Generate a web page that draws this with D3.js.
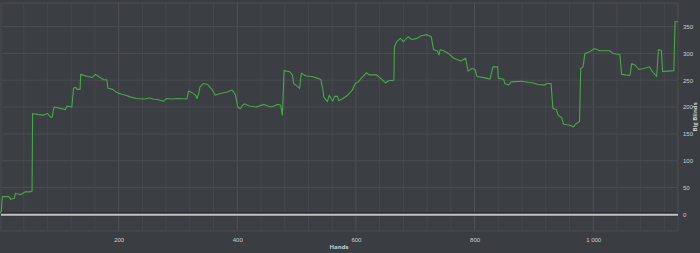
<!DOCTYPE html>
<html>
<head>
<meta charset="utf-8">
<script src="https://cdn.jsdelivr.net/npm/d3@7"></script>
<style>
  html, body { margin: 0; padding: 0; background: #3a3d42; }
  svg { display: block; font-family: "Open Sans", "DejaVu Sans", sans-serif; }
</style>
</head>
<body>
<div id="chart"></div>
<script>
// Hands played (x) and running result in big blinds (y)
const hands = [0, 2, 4, 15, 18, 24, 26, 35, 43, 51, 54, 55, 65, 74, 80, 86, 88, 91, 100, 108,
  110, 113, 121, 124, 127, 130, 135, 136, 145, 155, 158, 161, 165, 170, 175, 180, 182, 190, 197, 205,
  212, 219, 230, 243, 253, 258, 265, 276, 280, 290, 300, 315, 318, 325, 330, 332, 335, 337, 343, 350,
  358, 363, 370, 383, 391, 394, 397, 401, 405, 408, 412, 420, 432, 445, 456, 462, 467, 473, 476, 479,
  488, 493, 495, 500, 505, 508, 516, 526, 535, 541, 544, 546, 552, 555, 561, 564, 569, 571, 578, 586,
  594, 599, 604, 610, 618, 622, 635, 640, 644, 650, 655, 664, 665, 669, 675, 680, 688, 694, 703, 710,
  720, 727, 731, 737, 740, 742, 748, 756, 765, 777, 785, 789, 796, 801, 804, 820, 826, 831, 839, 840,
  849, 851, 857, 862, 879, 899, 907, 918, 922, 929, 932, 938, 941, 947, 950, 961, 967, 970, 977, 979,
  983, 986, 994, 1002, 1011, 1028, 1033, 1045, 1048, 1062, 1065, 1071, 1077, 1086, 1095, 1098, 1107, 1110, 1115, 1117,
  1136, 1138, 1143];
const bigBlinds = [2, 5, 33, 33, 28, 30, 39, 37, 42, 42, 43, 188, 186, 185, 188, 181, 181, 200, 198, 196,
  195, 202, 200, 235, 237, 233, 233, 261, 258, 255, 258, 261, 258, 254, 251, 251, 235, 233, 227, 224,
  222, 219, 216, 215, 217, 215, 214, 211, 216, 215, 216, 215, 230, 226, 222, 216, 225, 237, 244, 242,
  232, 222, 225, 228, 232, 228, 222, 200, 197, 202, 206, 202, 200, 205, 200, 202, 205, 204, 185, 268,
  266, 260, 244, 240, 235, 263, 258, 257, 254, 251, 235, 218, 210, 222, 211, 220, 220, 212, 216, 222,
  232, 244, 247, 255, 264, 260, 260, 255, 251, 245, 249, 250, 312, 322, 328, 322, 331, 326, 328, 333,
  335, 331, 307, 305, 297, 307, 305, 300, 291, 286, 291, 267, 272, 270, 257, 254, 252, 275, 275, 254,
  252, 244, 241, 247, 248, 245, 242, 241, 244, 244, 198, 195, 185, 180, 168, 166, 163, 168, 173, 272,
  275, 300, 303, 309, 305, 305, 300, 298, 261, 259, 281, 278, 270, 272, 275, 269, 257, 307, 306, 266,
  268, 359, 359];

const xTicks = [200, 400, 600, 800, 1000];
const yTicks = [0, 50, 100, 150, 200, 250, 300, 350];

const W = 700, H = 253;
const plot = {left: 0, right: 678, top: 3, bottom: 231};

const points = hands.map((h, i) => ({hand: h, bb: bigBlinds[i]}));

const x = d3.scaleLinear().domain([0, 1143]).range([plot.left, plot.right]);
const y = d3.scaleLinear().domain([-31, 394]).range([plot.bottom, plot.top]);

const svg = d3.select("#chart").append("svg")
  .attr("width", W)
  .attr("height", H);

// plot panel
svg.append("rect")
  .attr("x", plot.left + 1).attr("y", plot.top)
  .attr("width", plot.right - plot.left - 1).attr("height", plot.bottom - plot.top)
  .attr("fill", "#3b3e43")
  .attr("stroke", "#4a4d52")
  .attr("stroke-width", 1);

// vertical grid, minor every 40 hands, major every 200
const grid = svg.append("g");
grid.selectAll("line.vx")
  .data(d3.range(40, 1143, 40))
  .join("line")
  .attr("x1", d => x(d)).attr("x2", d => x(d))
  .attr("y1", plot.top).attr("y2", plot.bottom)
  .attr("stroke", d => d % 200 === 0 ? "#4f5257" : "#45484d")
  .attr("stroke-width", 1);

// horizontal grid
grid.selectAll("line.hy")
  .data(yTicks.filter(d => d > 0))
  .join("line")
  .attr("x1", plot.left + 1).attr("x2", plot.right)
  .attr("y1", d => y(d)).attr("y2", d => y(d))
  .attr("stroke", "#4a4d52")
  .attr("stroke-width", 1);

// zero line
svg.append("line")
  .attr("x1", plot.left + 1).attr("x2", plot.right)
  .attr("y1", y(0)).attr("y2", y(0))
  .attr("stroke", "#2a2c30")
  .attr("stroke-width", 4);
svg.append("line")
  .attr("x1", plot.left + 1).attr("x2", plot.right)
  .attr("y1", y(0) + 0.5).attr("y2", y(0) + 0.5)
  .attr("stroke", "#c4c4c4")
  .attr("stroke-width", 2);

// the results line
svg.append("path")
  .datum(points)
  .attr("fill", "none")
  .attr("stroke", "#48a84a")
  .attr("stroke-width", 1.1)
  .attr("stroke-linejoin", "round")
  .attr("d", d3.line().x(d => x(d.hand)).y(d => y(d.bb)));

// x axis labels
const fmt = d => d >= 1000 ? d3.format(",")(d).replace(",", " ") : String(d);
svg.append("g")
  .attr("transform", "translate(0," + (plot.bottom + 8) + ")")
  .call(d3.axisBottom(x).tickValues(xTicks).tickSize(0).tickFormat(fmt))
  .call(g => g.select(".domain").remove())
  .call(g => g.selectAll("text").attr("fill", "#cfcfcf").attr("font-size", "6px").attr("dy", 0));

// y axis labels (right side)
svg.append("g")
  .attr("transform", "translate(" + (plot.right + 3) + ",0)")
  .call(d3.axisRight(y).tickValues(yTicks).tickSize(0))
  .call(g => g.select(".domain").remove())
  .call(g => g.selectAll("text").attr("fill", "#cfcfcf").attr("font-size", "6px").attr("x", 2));

// axis titles
svg.append("text")
  .attr("x", (plot.left + plot.right) / 2)
  .attr("y", 249)
  .attr("text-anchor", "middle")
  .attr("fill", "#cfcfcf")
  .attr("font-size", "6px")
  .attr("font-weight", "bold")
  .text("Hands");

svg.append("text")
  .attr("transform", "translate(697," + ((plot.top + plot.bottom) / 2) + ") rotate(-90)")
  .attr("text-anchor", "middle")
  .attr("fill", "#cfcfcf")
  .attr("font-size", "6px")
  .attr("font-weight", "bold")
  .text("Big Blinds");
</script>
</body>
</html>
